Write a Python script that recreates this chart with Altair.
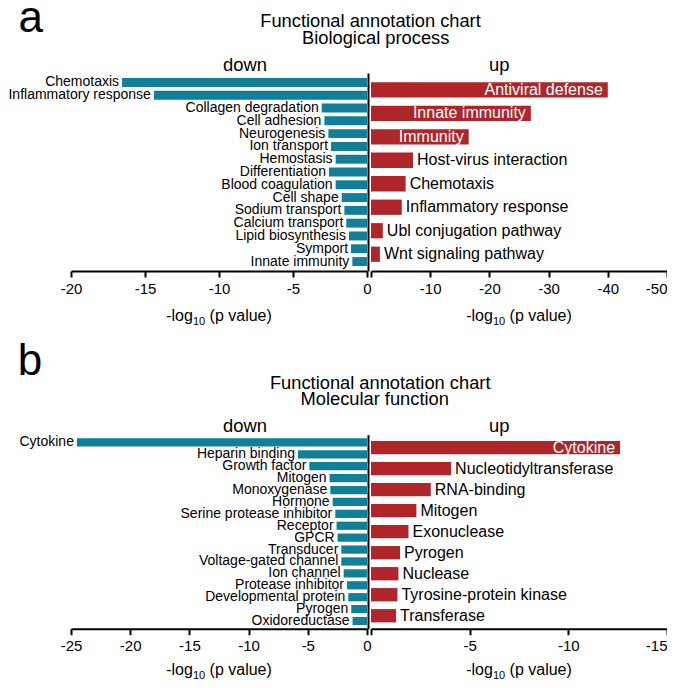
import altair as alt
import pandas as pd

FONT = "Liberation Sans"
TEAL = "#127F98"
RED = "#B0252A"

# ---------------- Panel a: Biological process ----------------
DOWN_A_TERMS = ["Chemotaxis", "Inflammatory response", "Collagen degradation", "Cell adhesion",
                "Neurogenesis", "Ion transport", "Hemostasis", "Differentiation",
                "Blood coagulation", "Cell shape", "Sodium transport", "Calcium transport",
                "Lipid biosynthesis", "Symport", "Innate immunity"]
DOWN_A_VALUES = [-16.55, -14.4, -3.06, -2.88, -2.61, -2.43, -2.12, -2.57,
                 -2.12, -1.71, -1.53, -1.40, -1.22, -1.08, -0.99]
UP_A_TERMS = ["Antiviral defense", "Innate immunity", "Immunity", "Host-virus interaction",
              "Chemotaxis", "Inflammatory response", "Ubl conjugation pathway",
              "Wnt signaling pathway"]
UP_A_VALUES = [-40.0, -27.0, -16.5, -7.1, -5.85, -5.2, -2.0, -1.5]
UP_A_INSIDE = ["Antiviral defense", "Innate immunity", "Immunity"]
DOWN_A_TICKS = [-20, -15, -10, -5, 0]
UP_A_TICKS = [0, -10, -20, -30, -40, -50]

# ---------------- Panel b: Molecular function ----------------
DOWN_B_TERMS = ["Cytokine", "Heparin binding", "Growth factor", "Mitogen", "Monoxygenase",
                "Hormone", "Serine protease inhibitor", "Receptor", "GPCR", "Transducer",
                "Voltage-gated channel", "Ion channel", "Protease inhibitor",
                "Developmental protein", "Pyrogen", "Oxidoreductase"]
DOWN_B_VALUES = [-24.5, -5.83, -4.87, -3.16, -3.10, -2.9, -2.68, -2.57, -2.48, -2.17,
                 -2.17, -1.97, -1.69, -1.58, -1.33, -1.22]
UP_B_TERMS = ["Cytokine", "Nucleotidyltransferase", "RNA-binding", "Mitogen", "Exonuclease",
              "Pyrogen", "Nuclease", "Tyrosine-protein kinase", "Transferase"]
UP_B_VALUES = [-12.62, -4.06, -3.03, -2.30, -1.90, -1.47, -1.39, -1.34, -1.27]
UP_B_INSIDE = ["Cytokine"]
DOWN_B_TICKS = [-25, -20, -15, -10, -5, 0]
UP_B_TICKS = [0, -5, -10, -15]

TITLE_1 = "Functional annotation chart"
SUB_A = "Biological process"
SUB_B = "Molecular function"

W = 296
HA = 198
HB = 194


def text_mark(s, x, y, size, align="center", color="black"):
    return alt.Chart(pd.DataFrame({"t": [s]})).mark_text(
        align=align, baseline="alphabetic", fontSize=size, font=FONT, color=color
    ).encode(text="t:N", x=alt.value(x), y=alt.value(y))


def axis_title(cx, y):
    w1 = 1.667 * 16
    w2 = 1.112 * 11
    wsp = 0.278 * 16
    w3 = 3.89 * 16
    x0 = cx - (w1 + w2 + wsp + w3) / 2
    return [
        text_mark("-log", x0 + w1, y, 16, align="right"),
        text_mark("10", x0 + w1, y + 4.0, 11, align="left"),
        text_mark("(p value)", x0 + w1 + w2 + wsp, y, 16, align="left"),
    ]


def x_enc(domain, ticks, reverse, up):
    if up:
        axis = alt.Axis(values=ticks, title=None, grid=False, labelOverlap=False,
                        labelExpr="datum.value == 0 ? '' : toString(datum.value)",
                        labelFlush=True, labelFlushOffset=0)
    else:
        axis = alt.Axis(values=ticks, title=None, grid=False, labelOverlap=False,
                        labelExpr="toString(datum.value)", labelFlush=False)
    return alt.X("value:Q", scale=alt.Scale(domain=domain, nice=False, reverse=reverse),
                 axis=axis)


def down_chart(terms, values, domain, ticks, height, pi, po, extras):
    df = pd.DataFrame({"term": terms, "value": values})
    y = alt.Y("term:N", sort=None, scale=alt.Scale(paddingInner=pi, paddingOuter=po), axis=None)
    x = x_enc(domain, ticks, False, False)
    bars = alt.Chart(df).mark_bar(color=TEAL).encode(x=x, y=y)
    labels = alt.Chart(df).mark_text(
        align="right", baseline="middle", dx=-3, fontSize=14, font=FONT, color="black"
    ).encode(x=x, y=y, text="term:N")
    return alt.layer(bars, labels, *extras).properties(width=W, height=height)


def up_chart(terms, values, inside, domain, ticks, height, pi, po, extras):
    df = pd.DataFrame({"term": terms, "value": values})
    y = alt.Y("term:N", sort=None, scale=alt.Scale(paddingInner=pi, paddingOuter=po),
              axis=alt.Axis(labels=False, ticks=False, domain=True, domainColor="black",
                            domainWidth=2, offset=3, title=None, grid=False))
    x = x_enc(domain, ticks, True, True)
    bars = alt.Chart(df).mark_bar(color=RED).encode(x=x, y=y)
    lab_in = alt.Chart(df).transform_filter(
        alt.FieldOneOfPredicate(field="term", oneOf=inside)
    ).mark_text(align="right", baseline="middle", dx=-5, fontSize=16, font=FONT,
                color="white").encode(x=x, y=y, text="term:N")
    lab_out = alt.Chart(df).transform_filter(
        {"not": alt.FieldOneOfPredicate(field="term", oneOf=inside)}
    ).mark_text(align="left", baseline="middle", dx=4, fontSize=16, font=FONT,
                color="black").encode(x=x, y=y, text="term:N")
    return alt.layer(bars, lab_in, lab_out, *extras).properties(width=W, height=height)


anchor = alt.Chart(pd.DataFrame({"a": [0]})).mark_rule(opacity=0, strokeWidth=0).encode(
    x=alt.value(-63), y=alt.value(0), y2=alt.value(1))

down_a = down_chart(
    DOWN_A_TERMS, DOWN_A_VALUES, [-20, 0], DOWN_A_TICKS, HA, 0.30, 0.39,
    [anchor,
     text_mark("a", -52.6, -41, 44, align="left"),
     text_mark(TITLE_1, 299.5, -46, 18.3),
     text_mark(SUB_A, 304.7, -29, 18.3),
     text_mark("down", 174, -2.3, 18.4)] + axis_title(148, HA + 49.7))

up_a = up_chart(
    UP_A_TERMS, UP_A_VALUES, UP_A_INSIDE, [-50, 0], UP_A_TICKS, HA, 0.35, 0.39,
    [text_mark("up", 128.3, -2.3, 18.4)] + axis_title(148, HA + 49.7))

down_b = down_chart(
    DOWN_B_TERMS, DOWN_B_VALUES, [-25, 0], DOWN_B_TICKS, HB, 0.31, 0.30,
    [text_mark("b", -53.2, -60, 44, align="left"),
     text_mark(TITLE_1, 309.2, -46, 18.3),
     text_mark(SUB_B, 303.7, -29.4, 18.3),
     text_mark("down", 174, -2.7, 18.4)] + axis_title(148, HB + 46.5))

up_b = up_chart(
    UP_B_TERMS, UP_B_VALUES, UP_B_INSIDE, [-15, 0], UP_B_TICKS, HB, 0.367, 0.30,
    [text_mark("up", 128.3, -2.7, 18.4)] + axis_title(148, HB + 46.5))

chart = alt.concat(
    down_a, up_a, down_b, up_b, columns=2, bounds="flush",
    spacing={"row": 163.7, "column": 4}
).properties(
    padding={"left": 0, "top": -11, "right": -1, "bottom": -2}
).configure_view(stroke=None).configure_axis(
    labelFont=FONT, labelFontSize=15, labelColor="black", domainColor="black",
    tickColor="black", domainWidth=2, tickWidth=2, tickSize=6, labelPadding=4, grid=False
)

chart.save("out.html", embed_options={"renderer": "svg", "actions": False})
